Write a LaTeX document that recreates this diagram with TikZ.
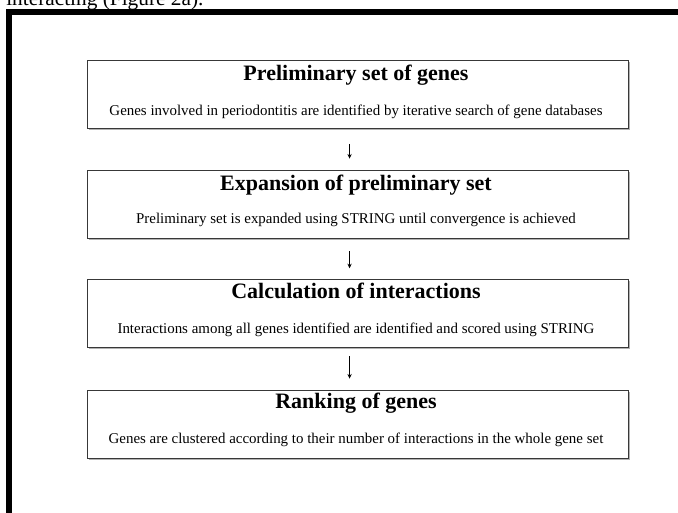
\documentclass[tikz,border=0pt]{standalone}
\usepackage{fontspec}
\setmainfont{Liberation Serif}
\usetikzlibrary{arrows.meta}
\begin{document}
\begin{tikzpicture}[x=0.75pt,y=-0.75pt,
 stepbox/.style={draw=black!78, line width=0.9pt, minimum width=405.75pt, minimum height=51pt, inner sep=0pt, anchor=north west},
 shadowline/.style={draw=black!30, line width=0.8pt},
 titletext/.style={font=\bfseries\fontsize{16.5pt}{18pt}\selectfont, anchor=base, inner sep=0pt},
 subtext/.style={font=\fontsize{11.2pt}{13pt}\selectfont, anchor=base, inner sep=0pt},
 arr/.style={-{Stealth[length=3.5pt,width=3.2pt]}, line width=0.75pt}]
\useasboundingbox (0,0) rectangle (678,512);
\clip (0,0) rectangle (678,512);
\node[anchor=base west, inner sep=0pt, font=\fontsize{16pt}{18pt}\selectfont] (cap) at (6,5) {interacting (Figure 2a).};
\draw[line width=4.5pt] (9,12) rectangle (720,560);
% shadows
\foreach \t in {60,170,279,390}{
  \draw[shadowline] (629.5,\t+2) -- (629.5,\t+69.5) -- (89,\t+69.5);
}
% boxes
\node[stepbox] (b1) at (87,60) {};
\node[stepbox] (b2) at (87,170) {};
\node[stepbox] (b3) at (87,279) {};
\node[stepbox] (b4) at (87,390) {};
% texts
\node[titletext] (t1) at (356,80) {Preliminary set of genes};
\node[subtext] (s1) at (356,115) {Genes involved in periodontitis are identified by iterative search of gene databases};
\node[titletext] (t2) at (356,190) {Expansion of preliminary set};
\node[subtext] (s2) at (356,223.5) {Preliminary set is expanded using STRING until convergence is achieved};
\node[titletext] (t3) at (356,298) {Calculation of interactions};
\node[subtext] (s3) at (356,333) {Interactions among all genes identified are identified and scored using STRING};
\node[titletext] (t4) at (356,408) {Ranking of genes};
\node[subtext] (s4) at (356,443) {Genes are clustered according to their number of interactions in the whole gene set};
% arrows
\draw[arr, shorten <=11pt, shorten >=8.5pt] ([xshift=-6.4pt]b1.south) -- ([xshift=-6.4pt]b2.north);
\draw[arr, shorten <=9pt, shorten >=8pt] ([xshift=-6.4pt]b2.south) -- ([xshift=-6.4pt]b3.north);
\draw[arr, shorten <=6pt, shorten >=8.5pt] ([xshift=-6.4pt]b3.south) -- ([xshift=-6.4pt]b4.north);
\end{tikzpicture}
\end{document}
